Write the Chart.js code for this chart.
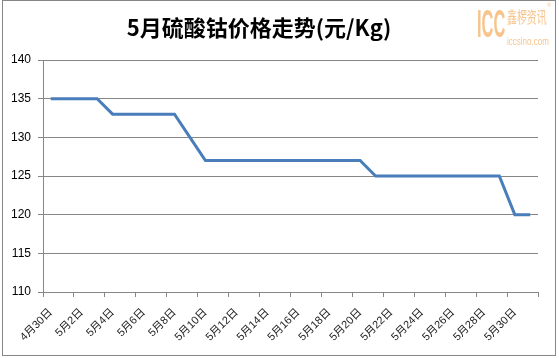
<!DOCTYPE html>
<html><head><meta charset="utf-8">
<script src="https://cdn.jsdelivr.net/npm/chart.js@4"></script>
<style>html,body{margin:0;padding:0;background:#fff;}canvas{display:block;}</style>
</head><body>
<canvas id="c" width="559" height="358"></canvas>
<script>
const categories = ['4月30日','5月1日','5月2日','5月3日','5月4日','5月5日','5月6日','5月7日','5月8日','5月9日','5月10日','5月11日','5月12日','5月13日','5月14日','5月15日','5月16日','5月17日','5月18日','5月19日','5月20日','5月21日','5月22日','5月23日','5月24日','5月25日','5月26日','5月27日','5月28日','5月29日','5月30日','5月31日'];
const prices = [135,135,135,135,133,133,133,133,133,130,127,127,127,127,127,127,127,127,127,127,127,125,125,125,125,125,125,125,125,125,120,120];
const titleText = '5月硫酸钴价格走势(元/Kg)';
const yMin = 110, yMax = 140, yStep = 5;

const decor = {
  id: 'decor',
  afterDraw(chart) {
    const ctx = chart.ctx;
    ctx.save();
    ctx.strokeStyle = '#868686';
    ctx.lineWidth = 1;
    ctx.strokeRect(2.5, 0.5, 553, 355);
    // title
    ctx.fillStyle = '#000';
    ctx.font = 'bold 22px "Noto Sans CJK SC", sans-serif';
    ctx.textAlign = 'center';
    ctx.textBaseline = 'middle';
    ctx.fillText(titleText, 259, 28);
    // logo
    ctx.fillStyle = '#f7c58c';
    ctx.textAlign = 'left';
    ctx.textBaseline = 'alphabetic';
    ctx.save();
    ctx.translate(477, 37);
    ctx.scale(0.42, 1);
    ctx.font = 'bold 39px "Liberation Sans", sans-serif';
    ctx.fillText('ICC', 0, 0);
    ctx.restore();
    ctx.save();
    ctx.translate(507, 23);
    ctx.scale(0.62, 1);
    ctx.font = '16px "Noto Sans CJK SC", sans-serif';
    ctx.fillText('鑫椤资讯', 0, 0);
    ctx.restore();
    ctx.save();
    ctx.translate(507, 45);
    ctx.scale(0.8, 1);
    ctx.font = '10px "Liberation Sans", sans-serif';
    ctx.fillText('iccsino.com', 0, 0);
    ctx.restore();
    ctx.font = '6px "Liberation Sans", sans-serif';
    ctx.fillText('®', 547, 7);
    ctx.restore();
  }
};

new Chart(document.getElementById('c'), {
  type: 'line',
  data: {
    labels: categories,
    datasets: [{
      data: prices,
      borderColor: '#4a7ebb',
      borderWidth: 3,
      pointRadius: 0,
      tension: 0,
      fill: false
    }]
  },
  options: {
    responsive: false,
    animation: false,
    layout: { padding: { top: 60, right: 21, left: 0, bottom: 0 } },
    plugins: { legend: { display: false }, title: { display: false }, tooltip: { enabled: false } },
    scales: {
      x: {
        type: 'category',
        offset: true,
        afterFit(s) { s.height = 66; },
        border: { color: '#868686', width: 1 },
        grid: {
          offset: true,
          drawOnChartArea: false,
          drawTicks: true,
          tickLength: 5,
          tickColor: (c) => (c.index === undefined || c.index % 2 === 0) ? '#868686' : 'rgba(0,0,0,0)'
        },
        ticks: {
          autoSkip: false,
          minRotation: 45,
          maxRotation: 45,
          padding: 9,
          color: '#222',
          font: { family: '"Liberation Sans", "Noto Sans CJK SC", sans-serif', size: 11 },
          callback: function(v, i) { return i % 2 === 0 ? categories[i] : ''; }
        }
      },
      y: {
        min: yMin, max: yMax,
        afterFit(s) { s.width = 43; },
        border: { color: '#868686', width: 1 },
        grid: { color: '#868686', lineWidth: 1, tickLength: 5, tickColor: '#868686' },
        ticks: {
          stepSize: yStep,
          padding: 7,
          color: '#000',
          font: { family: '"Liberation Sans", sans-serif', size: 12 }
        }
      }
    }
  },
  plugins: [decor]
});
</script>
</body></html>
